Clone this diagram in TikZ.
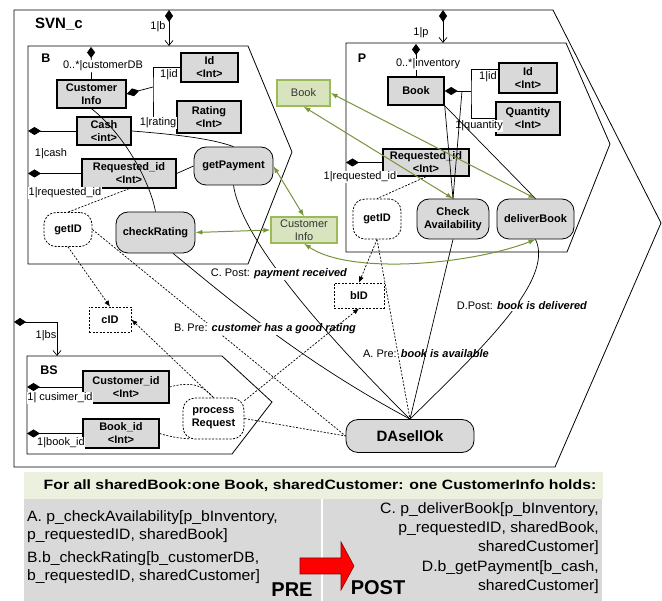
\documentclass[tikz,border=0pt]{standalone}
\usepackage{fontspec}
\usepackage{graphicx}
\setmainfont{Liberation Sans}
\usetikzlibrary{arrows.meta,calc}
\definecolor{boxgray}{HTML}{D9D9D9}
\definecolor{greenfill}{HTML}{D7E4BD}
\definecolor{greenedge}{HTML}{9BBB59}
\definecolor{greenline}{HTML}{77933C}
\definecolor{bandfill}{HTML}{EBF1DE}
\definecolor{tablegray}{HTML}{D9D9D9}
\definecolor{arrowred}{HTML}{FF0000}
\newcommand\tabtext[1]{\scalebox{1.05}[1]{\fontsize{15}{17}\selectfont #1}}
\begin{document}
\begin{tikzpicture}[x=1pt,y=-1pt,
  every node/.style={inner sep=1pt},
  lab/.style={font=\fontsize{11}{13}\selectfont, align=center},
  role/.style={font=\fontsize{11}{13}\selectfont, fill=white, inner sep=0.5pt},
  title/.style={font=\fontsize{12.5}{14}\selectfont\bfseries},
  data/.style={draw, line width=1.4pt, fill=boxgray, align=center,
    font=\fontsize{11}{13}\selectfont\bfseries},
  proc/.style={draw, line width=0.8pt, rounded corners=12pt, fill=boxgray,
    align=center, font=\fontsize{11}{13}\selectfont\bfseries},
  dproc/.style={draw, line width=0.8pt, dash pattern=on 2pt off 1.5pt,
    rounded corners=12pt, fill=white, align=center,
    font=\fontsize{11}{13}\selectfont\bfseries},
  dbox/.style={draw, line width=0.8pt, dash pattern=on 2pt off 1.5pt,
    fill=white, font=\fontsize{11}{13}\selectfont\bfseries},
  gbox/.style={draw=greenedge, line width=1.2pt, fill=greenfill, align=center,
    text=black!80, font=\fontsize{11}{13}\selectfont},
  frame/.style={draw, line width=0.8pt},
  conn/.style={line width=0.7pt},
  dconn/.style={line width=0.7pt, dash pattern=on 2pt off 1.5pt},
  darrow/.style={dconn, -{Latex[length=6pt,width=5pt]}},
  hdia/.style={conn, {Diamond[length=13pt,width=8pt]}-},
  vdia/.style={conn, {Diamond[length=11pt,width=8pt]}-},
  partof/.style={conn, {Diamond[length=12pt,width=8pt]}-{Straight Barb[length=5pt,width=8pt]}},
  garrow/.style={draw=greenline, line width=1pt,
    {Latex[length=7pt,width=5pt]}-{Latex[length=7pt,width=5pt]}},
]
\useasboundingbox (0,0) rectangle (662,601);

% ---------- frames ----------
\draw[frame] (14,10) -- (553,10) -- (661,223) -- (555,467) -- (14,467) -- cycle;
\draw[frame] (28,46) -- (248,46) -- (292,152) -- (248,264) -- (28,264) -- cycle;
\draw[frame] (346,43) -- (566,43) -- (610,144) -- (567,252) -- (346,252) -- cycle;
\draw[frame] (27,356) -- (222,356) -- (272,402) -- (232,454) -- (27,454) -- cycle;

\node[font=\fontsize{15}{16}\selectfont\bfseries] (tSVN) at (59,24) {SVN\_c};
\node[title] (tB) at (46,58) {B};
\node[title] (tP) at (362,58) {P};
\node[title] (tBS) at (49,370) {BS};

% ---------- B ----------
\node[data, minimum width=69pt, minimum height=28pt] (ci) at (91.5,94) {Customer\\Info};
\node[data, minimum width=57pt, minimum height=29pt] (idB) at (209.5,67.5) {Id\\<Int>};
\node[data, minimum width=64pt, minimum height=32pt] (rating) at (209,117) {Rating\\<Int>};
\node[data, minimum width=54pt, minimum height=28pt] (cash) at (104,131) {Cash\\<int>};
\node[data, minimum width=94pt, minimum height=29pt] (reqB) at (129,173.5) {Requested\_id\\<Int>};
\node[proc, minimum width=79pt, minimum height=38pt] (getPay) at (233.5,166) {getPayment};
\node[dproc, minimum width=48pt, minimum height=34pt] (getIdB) at (68,229.5) {getID};
\node[proc, minimum width=79pt, minimum height=41pt] (checkR) at (155.5,232.5) {checkRating};

% ---------- shared green boxes ----------
\node[gbox, minimum width=53pt, minimum height=26pt] (bookG) at (303.5,93) {Book};
\node[gbox, minimum width=66pt, minimum height=26pt] (ciG) at (304,230) {Customer\\Info};

% ---------- P ----------
\node[data, minimum width=56pt, minimum height=28pt] (book) at (416,91) {Book};
\node[data, minimum width=58pt, minimum height=30pt] (idP) at (528,78) {Id\\<Int>};
\node[data, minimum width=64pt, minimum height=33pt] (qty) at (528,118.5) {Quantity\\<Int>};
\node[data, minimum width=86pt, minimum height=27pt] (reqP) at (426,162.5) {Requested\_id\\<Int>};
\node[dproc, minimum width=48pt, minimum height=40pt] (getIdP) at (377,219) {getID};
\node[proc, minimum width=72pt, minimum height=40pt] (checkA) at (453,219) {Check\\Availability};
\node[proc, minimum width=77pt, minimum height=40pt] (deliver) at (535.5,219) {deliverBook};

% ---------- ids and BS ----------
\node[dbox, minimum width=42pt, minimum height=25pt] (cid) at (110,319.5) {cID};
\node[dbox, minimum width=50pt, minimum height=25pt] (bid) at (359,295.5) {bID};
\node[data, minimum width=86pt, minimum height=32pt] (custId) at (126,387) {Customer\_id\\<Int>};
\node[data, minimum width=76pt, minimum height=29pt] (bookId) at (121,433.5) {Book\_id\\<Int>};
\node[dproc, minimum width=61pt, minimum height=41pt] (proc) at (213.5,418.5) {process\\Request};
\node[proc, minimum width=128pt, minimum height=33pt,
  font=\fontsize{15}{16}\selectfont\bfseries] (dasell) at (410,436) {DAsellOk};

% ---------- part-of connectors ----------
\coordinate (bTop) at (169,10);  \coordinate (bIn) at (169,46);
\coordinate (pTop) at (443,10);  \coordinate (pIn) at (443,43);
\coordinate (bsL) at (14,322);   \coordinate (bsIn) at (57,356);
\draw[partof] (bTop) -- (bIn);
\draw[partof] (pTop) -- (pIn);
\draw[partof] (bsL) -| (bsIn);

\coordinate (ciTop) at (91,47);   \draw[vdia] (ciTop) -- (ci.north);
\coordinate (bookTop) at (416,44); \draw[vdia] (bookTop) -- (book.north);
\coordinate (cashL) at (28,131);  \draw[hdia] (cashL) -- (cash.west);
\coordinate (reqBL) at (28,173.5); \draw[hdia] (reqBL) -- (reqB.west);
\coordinate (reqPL) at (346,162.5); \draw[hdia] (reqPL) -- (reqP.west);
\coordinate (custL) at (27,387);  \draw[hdia] (custL) -- (custId.west);
\coordinate (bookIdL) at (27,433.5); \draw[hdia] (bookIdL) -- (bookId.west);

\coordinate (ciJ) at (153,87);
\draw[hdia] (ci.east) -- (ciJ);
\draw[conn] (idB.west) -| (ciJ) |- (rating.west);
\coordinate (bkJ) at (471,91);
\draw[hdia] (book.east) -- (bkJ);
\draw[conn] ($(idP.west)+(0,-9)$) -| (bkJ) |- (qty.west);

% ---------- role labels ----------
\node[role] (lb) at (158,27) {1|b};
\node[role] (lp) at (421,33) {1|p};
\node[role] (lbs) at (46,336) {1|bs};
\node[role] (lcdb) at (103,66) {0..*|customerDB};
\node[role] (lidB) at (169,75) {1|id};
\node[role] (lrat) at (158,123) {1|rating};
\node[role] (lcash) at (51,154) {1|cash};
\node[role] (lreqB) at (65,193) {1|requested\_id};
\node[role] (linv) at (428,64) {0..*|inventory};
\node[role] (lidP) at (488,77) {1|id};
\node[role] (lqty) at (479,126) {1|quantity};
\node[role] (lreqP) at (360,177) {1|requested\_id};
\node[role] (lcust) at (60,398) {1| cusimer\_id};
\node[role] (lbook) at (61,443) {1|book\_id};

% ---------- data use inside B and P ----------
\draw[conn] (ci.south) .. controls (125,135) and (150,182) .. (checkR.north);
\draw[conn] (cash.east) .. controls (170,134) and (210,138) .. (getPay.north);
\draw[conn] (reqB.east) -- (getPay.west);
\draw[dconn] (reqB.south) -- (getIdB.north);
\draw[conn] (book.south east) -- (checkA.north);
\draw[conn] (462,91) -- (checkA.north);
\draw[conn] (book.south east) -- (deliver.north);
\draw[dconn] (reqP.south) -- (getIdP.north);

% ---------- ids ----------
\draw[darrow] (getIdB.south) -- (cid.north);
\draw[darrow] (proc.north) -- (cid.east);
\draw[darrow] (getIdP.south) -- (bid.north);
\draw[dconn] (custId.east) .. controls (195,380) and (205,388) .. (proc.north);
\draw[dconn] (bookId.east) .. controls (180,440) and (193,438) .. (proc.220);
\draw[dconn] (proc.east) -- (dasell.west);
\draw[dconn] (getIdB.east) -- (dasell.west);
\draw[dconn] (getIdP.south) -- (dasell.north);

% ---------- conditions leading to DAsellOk ----------
\node[lab] (preA) at (426,354) {A. Pre: \textbf{\textit{book is available}}};
\draw[conn] (checkR.310) .. controls (230,300) and (300,360) .. (dasell.north);
\draw[conn] (checkA.south) -- (dasell.north);
\node[lab, fill=white] (preB) at (265,329) {B. Pre: \textbf{\textit{customer has a good rating}}};
\draw[conn] (getPay.south) .. controls (240,230) and (300,310) .. (dasell.north);
\draw[darrow] (proc.30) -- (bid.south);
\node[lab, fill=white] (postC) at (279,274) {C. Post: \textbf{\textit{payment received}}};
\draw[conn] (deliver.south) .. controls (555,280) and (480,350) .. (dasell.north);
\node[lab, fill=white] (postD) at (522,306) {D.Post: \textbf{\textit{book is delivered}}};

% ---------- sharing links ----------
\draw[garrow] (bookG.east) -- (deliver.north);
\draw[garrow] (bookG.south) -- (checkA.north);
\draw[garrow] (getPay.east) -- (ciG.north);
\draw[garrow] (checkR.east) -- (ciG.west);
\draw[garrow] (ciG.south) .. controls (350,275) and (470,265) .. (deliver.south);

% ---------- condition table ----------
\fill[bandfill] (24,472) rectangle (603,499);
\fill[tablegray] (24,499) rectangle (602,601);
\fill[white] (320.5,499) rectangle (323,601);
\node (hdr) at (320,486) {\scalebox{1.17}[1]{\fontsize{13.5}{15}\selectfont\bfseries For all sharedBook:one Book, sharedCustomer: one CustomerInfo holds:}};
\node[anchor=west] (ta1) at (26,518) {\tabtext{A. p\_checkAvailability[p\_bInventory,}};
\node[anchor=west] (ta2) at (26,536) {\tabtext{p\_requestedID, sharedBook]}};
\node[anchor=west] (tb1) at (26,559) {\tabtext{B.b\_checkRating[b\_customerDB,}};
\node[anchor=west] (tb2) at (26,577) {\tabtext{b\_requestedID, sharedCustomer]}};
\node[anchor=east] (tc1) at (600,510) {\tabtext{C. p\_deliverBook[p\_bInventory,}};
\node[anchor=east] (tc2) at (600,529) {\tabtext{p\_requestedID, sharedBook,}};
\node[anchor=east] (tc3) at (600,548) {\tabtext{sharedCustomer]}};
\node[anchor=east] (td1) at (600,568) {\tabtext{D.b\_getPayment[b\_cash,}};
\node[anchor=east] (td2) at (600,587) {\tabtext{sharedCustomer]}};
\node[font=\fontsize{20}{20}\selectfont\bfseries] (pre) at (292,590) {PRE};
\node[font=\fontsize{20}{20}\selectfont\bfseries] (post) at (378,588) {POST};
\draw[fill=arrowred, draw=arrowred!55!black, line width=0.6pt]
  (300,558) -- (341,558) -- (341,542) -- (354,566) -- (341,590) -- (341,574) -- (300,574) -- cycle;
\end{tikzpicture}
\end{document}
